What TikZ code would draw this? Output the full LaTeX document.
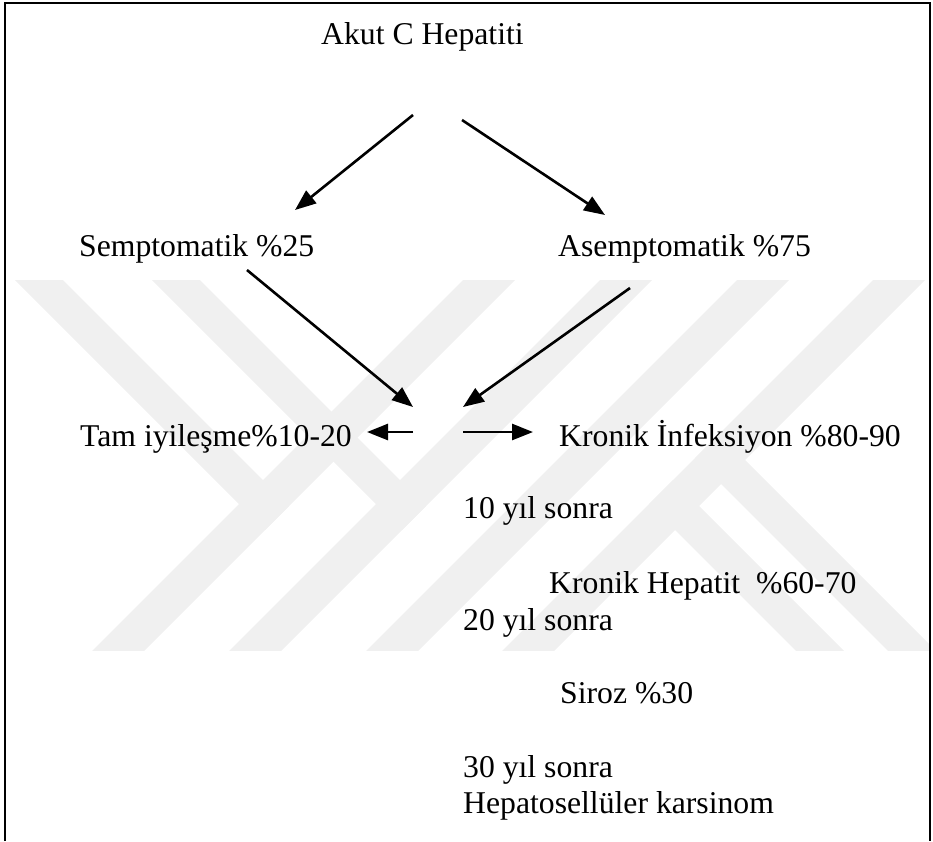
\documentclass[tikz,border=0pt]{standalone}
\usepackage{fontspec}
\setmainfont{Liberation Serif}
\usetikzlibrary{arrows.meta}
\begin{document}
\begin{tikzpicture}[x=1pt,y=-1pt,
  lbl/.style={anchor=base west, inner sep=0pt, font=\fontsize{31.7}{38}\selectfont},
  arr/.style={line width=2.6pt, -{Triangle[length=21pt,width=16pt]}},
  wm/.style={fill=black!6, draw=none},
  frame/.style={line width=2.5pt, line join=miter}]
\useasboundingbox (0,0) rectangle (933,841);
% watermark
\begin{scope}
  \clip (5,280) rectangle (930,650);
  \fill[wm] (493,250) -- (545,250) -- (95,700) -- (43,700) -- cycle;
  \fill[wm] (630,250) -- (682,250) -- (232,700) -- (180,700) -- cycle;
  \fill[wm] (767,250) -- (819,250) -- (369,700) -- (317,700) -- cycle;
  \fill[wm] (903,250) -- (955,250) -- (505,700) -- (453,700) -- cycle;
  \fill[wm] (-15,250) -- (33,250) -- (289,506) -- (265,530) -- cycle;
  \fill[wm] (122,250) -- (170,250) -- (426,506) -- (402,530) -- cycle;
  \fill[wm] (649,504) -- (673,480) -- (893,700) -- (845,700) -- cycle;
  \fill[wm] (695,458) -- (719,434) -- (985,700) -- (937,700) -- cycle;
\end{scope}
% frame
\draw[frame] (5,841) -- (5,3) -- (930,3) -- (930,841);
% texts
\node[lbl] (akut) at (321,44) {Akut C Hepatiti};
\node[lbl] (semp) at (79,256) {Semptomatik \%25};
\node[lbl] (asemp) at (558,256) {Asemptomatik \%75};
\node[lbl] (tam) at (80,446) {Tam iyileşme\%10-20};
\node[lbl] (kinf) at (559,446) {Kronik İnfeksiyon \%80-90};
\node[lbl] (y10) at (463,518) {10 yıl sonra};
\node[lbl] (khep) at (549,593) {Kronik Hepatit\ \ \%60-70};
\node[lbl] (y20) at (463,630) {20 yıl sonra};
\node[lbl] (siroz) at (560,703) {Siroz \%30};
\node[lbl] (y30) at (463,777) {30 yıl sonra};
\node[lbl] (hcc) at (463,813) {Hepatosellüler karsinom};
% arrow end points
\coordinate (a1s) at (413,115); \coordinate (a1e) at (295,210);
\coordinate (a2s) at (462,120); \coordinate (a2e) at (605,215);
\coordinate (a3s) at (247,270); \coordinate (a3e) at (413,407);
\coordinate (a4s) at (630,288); \coordinate (a4e) at (463,407);
\coordinate (a5s) at (413,432); \coordinate (a5e) at (367,432);
\coordinate (a6s) at (463,432); \coordinate (a6e) at (533,432);
\draw[arr] (a1s) -- (a1e);
\draw[arr] (a2s) -- (a2e);
\draw[arr] (a3s) -- (a3e);
\draw[arr] (a4s) -- (a4e);
\draw[arr] (a5s) -- (a5e);
\draw[arr] (a6s) -- (a6e);
\end{tikzpicture}
\end{document}
